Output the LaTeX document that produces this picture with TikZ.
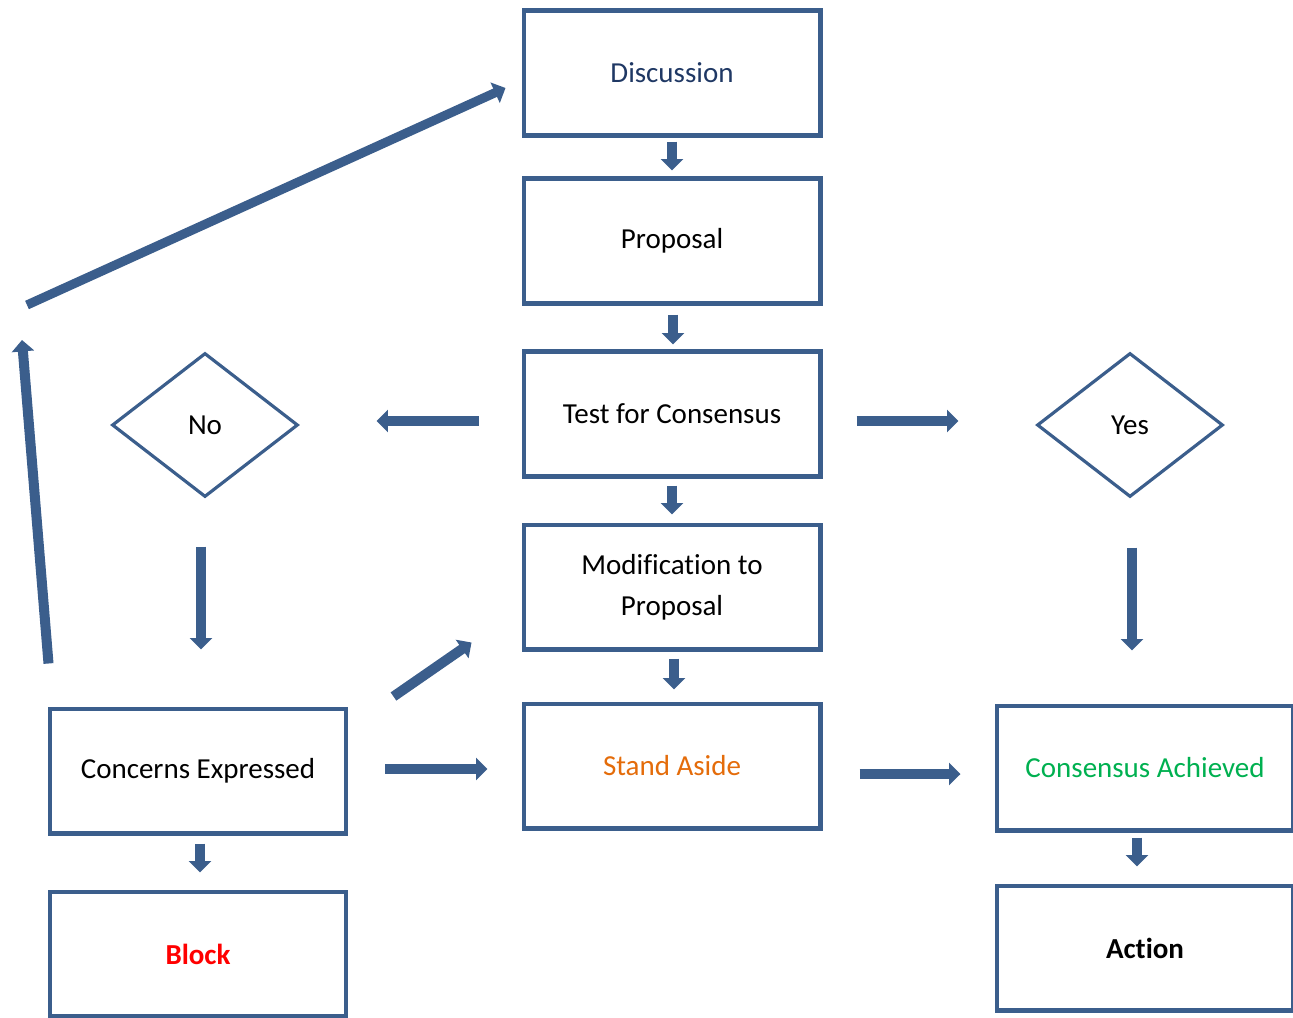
\documentclass[tikz,border=0pt]{standalone}
\usepackage{fontspec}
\setmainfont[Ligatures=CommonOff]{Carlito}
\usetikzlibrary{shapes.geometric,arrows.meta,calc}
\definecolor{boxblue}{RGB}{59,94,140}
\definecolor{discblue}{RGB}{31,56,100}
\definecolor{asideorange}{RGB}{228,108,10}
\definecolor{agreegreen}{RGB}{0,176,80}
\definecolor{blockred}{RGB}{255,0,0}

\begin{document}
\begin{tikzpicture}[x=0.02cm,y=-0.02cm,
  box/.style={draw=boxblue,line width=2.3pt,minimum width=5.94cm,minimum height=2.5cm,
    align=center,font=\fontsize{16.5}{23.5}\selectfont},
  choice/.style={draw=boxblue,line width=1.8pt,diamond,aspect=1.29,inner sep=0pt,
    minimum width=3.72cm,minimum height=2.88cm,font=\fontsize{16.5}{20}\selectfont},
  fat/.style={draw=boxblue,line width=5.7pt,-{Triangle[width=12.5pt,length=6.5pt]}}]
\useasboundingbox (0,0) rectangle (1293,1017);
% middle column
\node[box,text=discblue] (disc) at (672,73) {Discussion};
\node[box] (prop) at (672,241) {Proposal};
\node[box] (test) at (672,414) {Test for Consensus};
\node[box] (mod) at (672,587) {Modification to\\Proposal};
\node[box,text=asideorange] (aside) at (672,766) {Stand Aside};
% left side
\node[choice] (no) at (205,425) {No};
\node[box] (conc) at (198,771) {Concerns Expressed};
\node[box,text=blockred,font=\fontsize{16.5}{20}\selectfont\bfseries] (block) at (198,954) {Block};
% right side
\node[choice] (yes) at (1130,425) {Yes};
\node[box,text=agreegreen] (agree) at (1145,768) {Consensus Achieved};
\node[box,font=\fontsize{16.5}{20}\selectfont\bfseries] (act) at (1145,948) {Action};
\coordinate (loopup) at (22,340);
\coordinate (loopstart) at (27,305);
% arrows
\draw[fat] ($(disc.south)+(0,4)$) -- ($(prop.north)+(0,-6)$);
\draw[fat] ($(prop.south)+(1,9)$) -- ($(test.north)+(1,-5)$);
\draw[fat] ($(test.south)+(0,7)$) -- ($(mod.north)+(0,-8)$);
\draw[fat] ($(mod.south)+(2,7)$) -- ($(aside.north)+(2,-12)$);
\draw[fat] ($(conc.south)+(2,8)$) -- ($(block.north)+(2,-17)$);
\draw[fat] ($(agree.south)+(-8,5)$) -- ($(act.north)+(-8,-17)$);
\draw[fat] ($(test.west)+(-43,7)$) -- ($(no.east)+(77,-4)$);
\draw[fat] ($(test.east)+(34,7)$) -- ($(yes.west)+(-77,-4)$);
\draw[fat] ($(no.south)+(-4,48)$) -- ($(conc.north)+(3,-57)$);
\draw[fat] ($(yes.south)+(2,49)$) -- ($(agree.north)+(-13,-53)$);
\draw[fat] ($(conc.east)+(37,-2)$) -- ($(aside.west)+(-34,3)$);
\draw[fat] ($(aside.east)+(37,8)$) -- ($(agree.west)+(-34,6)$);
\draw[fat] ($(conc.north east)+(45,-10)$) -- ($(mod.south west)+(-50,-9)$);
\draw[fat] ($(conc.north west)+(1,-43)$) -- (loopup);
\draw[fat,line width=5.2pt] (loopstart) -- ($(disc.west)+(-16,15)$);
\end{tikzpicture}
\end{document}
